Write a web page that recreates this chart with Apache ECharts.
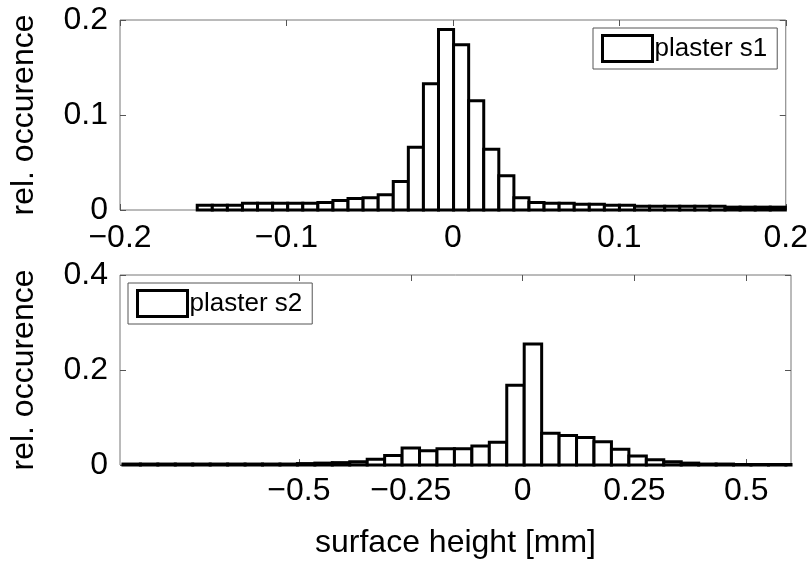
<!DOCTYPE html>
<html>
<head>
<meta charset="utf-8">
<script src="https://cdn.jsdelivr.net/npm/echarts@6/dist/echarts.min.js"></script>
<style>
html,body{margin:0;padding:0;background:#fff;}
#chart{width:811px;height:561px;}
</style>
</head>
<body>
<div id="chart"></div>
<script>
// ---- data ----
const topSeriesName = 'plaster s1';
const topBinStart = -0.1536;
const topBinWidth = 0.00906;
const topCounts = [
  0.005, 0.005, 0.005, 0.007, 0.007, 0.007, 0.007, 0.007, 0.008, 0.010,
  0.012, 0.013, 0.016, 0.030, 0.066, 0.133, 0.190, 0.174, 0.115, 0.064,
  0.036, 0.013, 0.008, 0.007, 0.007, 0.006, 0.006, 0.005, 0.005, 0.004,
  0.004, 0.004, 0.004, 0.004, 0.004, 0.003, 0.003, 0.003, 0.003
];

const bottomSeriesName = 'plaster s2';
const bottomBinStart = -0.8934;
const bottomBinWidth = 0.039;
const bottomCounts = [
  0.002, 0.002, 0.002, 0.002, 0.002, 0.002, 0.002, 0.002, 0.002, 0.002,
  0.003, 0.004, 0.005, 0.007, 0.012, 0.020, 0.036, 0.030, 0.034, 0.034,
  0.040, 0.048, 0.168, 0.255, 0.067, 0.062, 0.058, 0.049, 0.033, 0.019,
  0.011, 0.007, 0.004, 0.002, 0.002, 0.001, 0.001, 0.001, 0.001
];

const topXTicks = [-0.2, -0.1, 0, 0.1, 0.2];
const topXLabels = ['\u22120.2', '\u22120.1', '0', '0.1', '0.2'];
const topYTicks = [0, 0.1, 0.2];
const topYLabels = ['0', '0.1', '0.2'];
const bottomXTicks = [-0.5, -0.25, 0, 0.25, 0.5];
const bottomXLabels = ['\u22120.5', '\u22120.25', '0', '0.25', '0.5'];
const bottomYTicks = [0, 0.2, 0.4];
const bottomYLabels = ['0', '0.2', '0.4'];

const yName = 'rel. occurence';
const xName = 'surface height [mm]';

// ---- helpers ----
function bins(start, width, counts) {
  return counts.map((h, i) => [start + i * width, start + (i + 1) * width, h]);
}
function labeler(ticks, labels) {
  return function (v) {
    for (let i = 0; i < ticks.length; i++) {
      if (Math.abs(ticks[i] - v) < 1e-9) return labels[i];
    }
    return '';
  };
}
const FONT = 'Liberation Sans, Arial, Helvetica, sans-serif';
const tickColor = '#555';

function renderBar(params, api) {
  const x0 = api.value(0), x1 = api.value(1), h = api.value(2);
  const p0 = api.coord([x0, h]);
  const p1 = api.coord([x1, 0]);
  const cs = params.coordSys;
  const left = Math.max(p0[0], cs.x);
  const right = Math.min(p1[0], cs.x + cs.width);
  if (right <= left) return null;
  return {
    type: 'rect',
    shape: { x: left, y: p0[1], width: right - left, height: p1[1] - p0[1] },
    style: { fill: '#fff', stroke: '#000', lineWidth: 3 }
  };
}

function xAxisPair(gridIndex, min, max, ticks, labels, withName, margin) {
  const base = {
    gridIndex: gridIndex, type: 'value', min: min, max: max,
    axisLine: { show: false, onZero: false },
    splitLine: { show: false },
    axisTick: { show: true, inside: true, length: 6, customValues: ticks,
                lineStyle: { color: tickColor, width: 1 } }
  };
  const bottom = Object.assign({}, base, {
    position: 'bottom',
    axisLabel: { show: true, customValues: ticks, formatter: labeler(ticks, labels),
                 color: '#000', fontSize: 32, fontFamily: FONT, margin: margin }
  });
  if (withName) {
    bottom.name = xName;
    bottom.nameLocation = 'middle';
    bottom.nameGap = 62;
    bottom.nameTextStyle = { color: '#000', fontSize: 32, fontFamily: FONT };
  }
  const top = Object.assign({}, base, {
    position: 'top',
    axisLabel: { show: false }
  });
  return [bottom, top];
}
function yAxisPair(gridIndex, min, max, ticks, labels) {
  const base = {
    gridIndex: gridIndex, type: 'value', min: min, max: max,
    axisLine: { show: false, onZero: false },
    splitLine: { show: false },
    axisTick: { show: true, inside: true, length: 6, customValues: ticks,
                lineStyle: { color: tickColor, width: 1 } }
  };
  const left = Object.assign({}, base, {
    position: 'left',
    name: yName, nameLocation: 'middle', nameGap: 80, nameRotate: 90,
    nameTextStyle: { color: '#000', fontSize: 32, fontFamily: FONT },
    axisLabel: { show: true, customValues: ticks, formatter: labeler(ticks, labels),
                 color: '#000', fontSize: 32, fontFamily: FONT, margin: 12 }
  });
  const right = Object.assign({}, base, {
    position: 'right',
    axisLabel: { show: false }
  });
  return [left, right];
}

const chart = echarts.init(document.getElementById('chart'), null, { renderer: 'canvas' });
const xa = xAxisPair(0, -0.2, 0.2, topXTicks, topXLabels, false, 12)
  .concat(xAxisPair(1, -0.9, 0.6, bottomXTicks, bottomXLabels, true, 10));
const ya = yAxisPair(0, 0, 0.2, topYTicks, topYLabels)
  .concat(yAxisPair(1, 0, 0.4, bottomYTicks, bottomYLabels));

function legendFor(name, left, top) {
  return {
    left: left, top: top, orient: 'horizontal',
    data: [{ name: name, icon: 'rect',
             itemStyle: { color: '#fff', borderColor: '#000', borderWidth: 3 } }],
    itemWidth: 50, itemHeight: 26,
    padding: [6, 10, 6, 8],
    borderColor: '#555', borderWidth: 1,
    backgroundColor: '#fff',
    selectedMode: false,
    textStyle: { color: '#000', fontSize: 26, fontFamily: FONT, padding: [0, 0, 0, -3] }
  };
}

chart.setOption({
  animation: false,
  backgroundColor: '#fff',
  grid: [
    { left: 120, top: 20, width: 671, height: 190, show: true, borderColor: '#777', borderWidth: 1, backgroundColor: '#fff' },
    { left: 120, top: 275, width: 671, height: 190, show: true, borderColor: '#777', borderWidth: 1, backgroundColor: '#fff' }
  ],
  legend: [
    legendFor(topSeriesName, 593, 28),
    legendFor(bottomSeriesName, 128, 283)
  ],
  xAxis: xa,
  yAxis: ya,
  series: [
    {
      name: topSeriesName, type: 'custom', xAxisIndex: 0, yAxisIndex: 0,
      renderItem: renderBar, clip: false,
      itemStyle: { color: '#fff', borderColor: '#000' },
      encode: { x: [0, 1], y: 2 },
      data: bins(topBinStart, topBinWidth, topCounts)
    },
    {
      name: bottomSeriesName, type: 'custom', xAxisIndex: 2, yAxisIndex: 2,
      renderItem: renderBar, clip: false,
      itemStyle: { color: '#fff', borderColor: '#000' },
      encode: { x: [0, 1], y: 2 },
      data: bins(bottomBinStart, bottomBinWidth, bottomCounts)
    }
  ]
});
</script>
</body>
</html>
